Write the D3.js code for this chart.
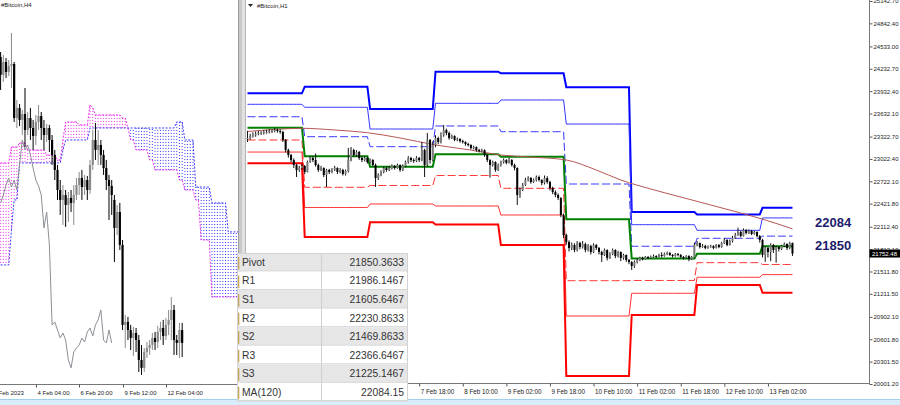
<!DOCTYPE html>
<html>
<head>
<meta charset="utf-8">
<script src="https://cdn.jsdelivr.net/npm/d3@7"></script>
<style>
html, body { margin: 0; padding: 0; background: #fff; overflow: hidden; }
svg { display: block; }
text { font-family: "Liberation Sans", Arial, sans-serif; }
</style>
</head>
<body>
<div id="chart"></div>
<script>
// ---------- left panel: #Bitcoin,H4, one bar every 4 hours from 2 Feb 2023 00:00 ----------
const h4Open = [24048,23897,24006,23922,23972,23989,23534,23619,23518,23568,
  23433,23534,23450,23383,23501,23551,23450,23391,23450,23349,
  23223,23097,22928,22844,22886,22802,22861,22819,22886,22970,
  23029,22953,23012,22928,23139,23349,23265,23307,23223,23113,
  23012,22962,22844,22608,22743,22465,21792,21817,21749,21682,
  21724,21665,21497,21430,21564,21598,21623,21682,21648,21733,
  21766,21699,21792,21834,21918,21665,21640,21749];
const h4High = [24090,24065,24040,24023,24250,24006,23686,23652,23602,23787,
  23585,23619,23518,23560,23644,23585,23518,23484,23476,23391,
  23265,23139,23012,22970,22928,22911,22928,22970,23029,23080,
  23097,23055,23046,23181,23433,23492,23433,23349,23265,23181,
  23055,23012,22886,22802,22819,22507,21876,21859,21792,21775,
  21766,21707,21623,21598,21648,21665,21724,21733,21783,21817,
  21834,21850,21918,22027,21960,21707,21808,21808];
const h4Low = [23770,23838,23871,23888,23787,23501,23450,23467,23391,23290,
  23391,23349,23265,23307,23433,23349,23265,23332,23248,23139,
  23012,22844,22718,22634,22617,22659,22743,22634,22844,22886,
  22844,22886,22844,22895,23097,23181,23139,23139,23055,22928,
  22676,22718,22322,22549,22423,21749,21598,21665,21581,21530,
  21564,21396,21371,21396,21514,21539,21581,21581,21598,21665,
  21623,21665,21707,21665,21539,21539,21514,21522];
const h4Close = [23897,24006,23922,23972,23989,23534,23619,23518,23568,23433,
  23534,23450,23383,23501,23551,23450,23391,23450,23349,23223,
  23097,22928,22844,22886,22802,22861,22819,22886,22970,23029,
  22953,23012,22928,23139,23349,23265,23307,23223,23113,23012,
  22962,22886,22608,22743,22465,21792,21817,21749,21682,21724,
  21665,21497,21430,21564,21598,21623,21682,21648,21733,21766,
  21699,21792,21834,21918,21665,21640,21749,21640];

// Ichimoku cloud spans per H4 bar (already shifted forward)
const spanA = [23156,23156,23156,23156,23290,23290,23290,23324,23324,23324,
  23265,23265,23265,23265,23265,23265,23265,23223,23223,23223,
  23223,23181,23181,23349,23501,23501,23501,23501,23501,23476,
  23476,23476,23476,23644,23619,23560,23560,23560,23560,23560,
  23560,23560,23560,23560,23560,23534,23534,23450,23349,23349,
  23265,23265,23265,23265,23265,23181,23181,23097,23097,23097,
  23097,23097,23097,23097,23097,23097,23012,23012,22928,22928,
  22928,22928,22844,22844,22507,22507,22507,22507,22027,22027,
  22027,22027,22027,22027,22027,22027,22027,22027,22027];
const spanB = [22297,22297,22297,22297,22591,22844,22844,23156,23156,23156,
  23156,23156,23156,23156,23156,23156,23156,23156,23156,23156,
  23156,23156,23156,23265,23349,23349,23349,23349,23349,23349,
  23349,23349,23349,23450,23450,23450,23450,23450,23450,23450,
  23450,23450,23450,23450,23450,23450,23450,23450,23450,23450,
  23450,23450,23450,23450,23450,23450,23450,23450,23450,23450,
  23450,23450,23450,23450,23450,23501,23501,23501,23349,23349,
  23349,23349,22953,22953,22953,22953,22953,22953,22819,22819,
  22819,22819,22819,22819,22575,22575,22575,22575,22575];
const leftTicks = ['2023-02-01 12:00', '2023-02-04 04:00', '2023-02-06 20:00', '2023-02-09 12:00', '2023-02-12 04:00'];
const leftTickLabels = ['1 Feb 2023', '4 Feb 04:00', '6 Feb 20:00', '9 Feb 12:00', '12 Feb 04:00'];

// ---------- right panel: #Bitcoin,H1, one bar per hour from 5 Feb 2023 03:00 ----------
const h1Open = [23290,
  23303,23330,23344,23357,23371,23371,23384,23384,23397,23397,23411,23397,23384,
  23277,23142,23075,23008,22941,22874,22901,22928,22847,22981,23035,23008,
  22941,22874,22901,22807,22874,22847,22874,22901,22847,22874,22820,22860,
  23008,23142,23075,23116,23035,23008,23035,22981,23008,22941,
  22766,22807,22847,22901,22874,22901,22928,22901,22941,22874,22928,
  22981,23035,23008,22995,23035,23008,23142,22941,23277,23008,
  23209,23303,23250,23344,23411,
  23371,23303,23330,23277,23290,23263,23250,23223,23209,23169,23183,23142,23129,23142,
  23075,23008,22941,22981,22874,22941,22981,23008,22968,23008,22941,22901,
  22538,22605,22673,22740,22766,22713,22740,22780,22740,
  22699,22766,22713,22632,22579,22538,22498,22270,22001,21907,
  21827,21867,21800,21894,21840,21880,21800,21854,21773,21867,21827,
  21773,21733,21800,21693,21746,21800,21719,21773,21693,21733,21666,21639,
  21585,21639,21666,21693,21679,21706,21693,21706,21719,21706,
  21733,21719,21746,21760,21733,21719,21746,21733,21706,21693,21719,21679,21706,
  21867,21894,21840,21854,21827,21840,21854,21827,21867,21840,
  21894,21934,21867,21921,21961,22001,22042,21988,
  22068,22028,22055,22015,22042,21988,21934,21733,
  21827,21773,21867,21800,21840,21813,21854,21880,21827,21894];
const h1High = [23400,23360,23380,23390,23400,23395,23410,
  23415,23425,23420,23440,23430,23420,23400,23290,23160,23090,23030,
  22960,22930,22960,22940,23000,23060,23060,
  23095,22960,22930,22910,22890,22890,22900,22930,22910,22900,22890,22880,
  23169,23183,23160,23140,23130,23060,23060,23050,23030,23020,
  22960,22830,22870,22920,22920,22930,22950,22940,22960,22950,22950,
  23000,23060,23050,23030,23060,23050,23250,23160,23371,23290,
  23260,23340,23320,23380,23478,
  23430,23390,23350,23340,23310,23300,23280,23260,23240,23220,23200,23190,23160,23160,
  23150,23090,23020,23000,22990,22960,23000,23030,23020,23040,23020,22960,
  22910,22640,22700,22770,22790,22780,22760,22800,22800,
  22750,22800,22790,22730,22650,22600,22560,22510,22290,22020,
  21930,21900,21890,21920,21910,21920,21900,21880,21870,21890,21880,
  21840,21790,21820,21810,21770,21820,21810,21790,21780,21750,21740,21680,
  21650,21660,21690,21710,21710,21720,21720,21725,21740,21730,
  21750,21770,21765,21780,21775,21745,21760,21760,21745,21720,21730,21730,21720,
  21900,21920,21900,21880,21870,21860,21870,21865,21880,21880,
  21910,21960,21945,21940,21990,22030,22100,22060,
  22090,22080,22075,22070,22060,22050,22000,21950,
  21850,21840,21890,21880,21860,21850,21870,21900,21890,21910,21900];
const h1Low = [23250,23280,23310,23320,23340,23345,23350,
  23360,23365,23370,23380,23375,23360,23250,23110,23040,22980,22900,
  22780,22850,22880,22820,22840,22970,22980,
  22920,22850,22860,22780,22646,22820,22830,22860,22820,22830,22800,22800,
  22840,22990,23050,23050,23010,22980,22990,22960,22960,22920,
  22646,22740,22790,22830,22850,22860,22880,22880,22890,22850,22860,
  22910,22960,22980,22970,22980,22980,22990,22780,22920,22960,
  22990,23180,23220,23230,23320,
  23340,23280,23290,23260,23260,23240,23230,23200,23190,23150,23150,23120,23110,23110,
  23050,22980,22770,22920,22850,22860,22920,22960,22950,22960,22920,22870,
  22404,22500,22590,22660,22720,22690,22700,22720,22720,
  22670,22680,22690,22600,22550,22510,22470,22240,21960,21870,
  21780,21800,21770,21780,21810,21820,21770,21780,21740,21760,21800,
  21740,21640,21720,21660,21680,21730,21690,21700,21650,21670,21640,21610,
  21532,21560,21620,21650,21660,21670,21680,21680,21695,21690,
  21700,21700,21710,21730,21720,21700,21710,21715,21690,21670,21680,21650,21665,
  21700,21850,21820,21830,21810,21815,21830,21810,21820,21825,
  21830,21880,21850,21860,21900,21950,21990,21970,
  21980,22010,22015,22000,22005,21970,21900,21700,
  21640,21700,21650,21760,21630,21780,21800,21840,21800,21810,21720];
const h1Close = [23303,23330,23344,23357,23371,23371,23384,
  23384,23397,23397,23411,23397,23384,23277,23142,23075,23008,22941,
  22874,22901,22928,22847,22981,23035,23008,
  22941,22874,22901,22807,22874,22847,22874,22901,22847,22874,22820,22860,
  23008,23142,23075,23116,23035,23008,23035,22981,23008,22941,
  22766,22807,22847,22901,22874,22901,22928,22901,22941,22874,22928,
  22981,23035,23008,22995,23035,23008,23142,22941,23277,23008,
  23209,23303,23250,23344,23411,
  23371,23303,23330,23277,23290,23263,23250,23223,23209,23169,23183,23142,23129,23142,
  23075,23008,22941,22981,22874,22941,22981,23008,22968,23008,22941,22901,
  22538,22605,22673,22740,22766,22713,22740,22780,22740,
  22699,22766,22713,22632,22579,22538,22498,22270,22001,21907,
  21827,21867,21800,21894,21840,21880,21800,21854,21773,21867,21827,
  21773,21733,21800,21693,21746,21800,21719,21773,21693,21733,21666,21639,
  21585,21639,21666,21693,21679,21706,21693,21706,21719,21706,
  21733,21719,21746,21760,21733,21719,21746,21733,21706,21693,21719,21679,21706,
  21867,21894,21840,21854,21827,21840,21854,21827,21867,21840,
  21894,21934,21867,21921,21961,22001,22042,21988,
  22068,22028,22055,22015,22042,21988,21934,21733,
  21827,21773,21867,21800,21840,21813,21854,21880,21827,21894,21752.48];

// daily pivot levels, 5 Feb .. 13 Feb
const pivotR3 = [23903, 23992, 23693, 24194, 24172, 23984, 22310, 22277, 22366.6467];
const pivotR2 = [23756, 23716, 23424, 23769, 23814, 23491, 22140, 22064, 22230.8633];
const pivotR1 = [23589, 23321, 23187, 23465, 23388, 22686, 21850, 21957, 21986.1467];
const pivotP  = [23442, 23059, 22918, 23085, 23053, 22213, 21685, 21750, 21850.3633];
const pivotS1 = [23277, 22642, 22666, 22800, 22628, 21388, 21391, 21630, 21605.6467];
const pivotS2 = [23115, 22371, 22418, 22391, 22270, 20914, 21219, 21434, 21469.8633];
const pivotS3 = [22964, 21975, 22172, 22142, 21867, 20109, 20928, 21330, 21225.1467];

// MA(120): hours after 5 Feb 00:00 and value
const maHours  = [3, 13, 23, 35, 47, 59, 72, 85, 96, 107, 120, 131, 140, 151, 162, 173, 184, 193, 203];
const maValues = [23391, 23418, 23434, 23411, 23375, 23304, 23210, 23142, 23075, 23048, 23008, 22874, 22740, 22619, 22511, 22404, 22297, 22203, 22084];

const yTicks = [25142.70, 24842.40, 24533.00, 24232.70, 23932.40, 23632.10, 23322.70, 23022.40, 22722.10,
  22421.80, 22112.40, 21812.10, 21511.80, 21211.50, 20902.10, 20601.80, 20301.50, 20001.20];
const rightTicks = ['2023-02-07 18:00', '2023-02-08 10:00', '2023-02-09 02:00', '2023-02-09 18:00', '2023-02-10 10:00',
  '2023-02-11 02:00', '2023-02-11 18:00', '2023-02-12 10:00', '2023-02-13 02:00'];

const tableNames  = ['Pivot', 'R1', 'S1', 'R2', 'S2', 'R3', 'S3', 'MA(120)'];
const tableValues = ['21850.3633', '21986.1467', '21605.6467', '22230.8633', '21469.8633', '22366.6467', '21225.1467', '22084.15'];
const lastPrice = 21752.48;

// ---------------------------------------------------------------------------
const W = 900, H = 405;
const parseT = d3.utcParse('%Y-%m-%d %H:%M');
const HOUR = 3600e3;
const h4Time = i => new Date(Date.UTC(2023, 1, 2, 0) + i * 4 * HOUR);
const h1Time = i => new Date(Date.UTC(2023, 1, 5, 3) + i * HOUR);
const fromDay = h => new Date(Date.UTC(2023, 1, 5, 0) + h * HOUR);

const xL = d3.scaleUtc().domain([new Date(Date.UTC(2023, 1, 2, 0)), new Date(Date.UTC(2023, 1, 12, 4))]).range([0.6, 165.9]);
const yL = d3.scaleLinear().domain([21200, 24500]).range([395.2, 3.3]);
const xR = d3.scaleUtc().domain([new Date(Date.UTC(2023, 1, 5, 0)), new Date(Date.UTC(2023, 1, 13, 0))]).range([239.3, 762.5]);
const yR = d3.scaleLinear().domain([20001.2, 25142.7]).range([384, 1]);

const svg = d3.select('#chart').append('svg').attr('width', W).attr('height', H);
svg.append('rect').attr('width', W).attr('height', H).attr('fill', '#fff');

const defs = svg.append('defs');
defs.append('clipPath').attr('id', 'clipL').append('rect').attr('x', 0).attr('y', 0).attr('width', 238).attr('height', 384);
defs.append('clipPath').attr('id', 'clipR').append('rect').attr('x', 246).attr('y', 0).attr('width', 623).attr('height', 383);

// ---- left panel ----
const left = svg.append('g').attr('clip-path', 'url(#clipL)');

const kumo = spanA.map((a, i) => ({ i, a, b: spanB[i] }));
left.append('g').selectAll('line').data(kumo).join('line')
    .attr('x1', d => xL(h4Time(d.i))).attr('x2', d => xL(h4Time(d.i)))
    .attr('y1', d => yL(d.a)).attr('y2', d => yL(d.b))
    .attr('stroke', d => (d.a >= d.b ? '#ee33ee' : '#3a3aff'))
    .attr('stroke-width', 1)
    .attr('stroke-dasharray', '1,2');

const spanLine = d3.line().x((d, i) => xL(h4Time(i))).y(d => yL(d));
left.append('path').attr('d', spanLine(spanA)).attr('fill', 'none')
    .attr('stroke', '#ee33ee').attr('stroke-width', 1).attr('stroke-dasharray', '2,1.5');
left.append('path').attr('d', spanLine(spanB)).attr('fill', 'none')
    .attr('stroke', '#3a3aff').attr('stroke-width', 1).attr('stroke-dasharray', '2,1.5');

// chikou span: closes drawn 26 bars back
const chikou = h4Close.map((c, i) => ({ i: i - 26, c })).filter(d => d.i >= 0);
left.append('path')
    .attr('d', d3.line().x(d => xL(h4Time(d.i))).y(d => yL(d.c))(chikou))
    .attr('fill', 'none').attr('stroke', '#8c9096').attr('stroke-width', 1);

const h4 = h4Close.map((c, i) => ({ t: h4Time(i), o: h4Open[i], h: h4High[i], l: h4Low[i], c }));
const h4g = left.append('g').selectAll('g').data(h4).join('g');
h4g.append('line')
    .attr('x1', d => xL(d.t)).attr('x2', d => xL(d.t))
    .attr('y1', d => yL(d.h)).attr('y2', d => yL(d.l))
    .attr('stroke', d => (d.c >= d.o ? '#8a8a8a' : '#000')).attr('stroke-width', 1);
h4g.append('rect')
    .attr('x', d => xL(d.t) - 1.1).attr('width', 2.2)
    .attr('y', d => yL(Math.max(d.o, d.c)))
    .attr('height', d => Math.max(1, Math.abs(yL(d.o) - yL(d.c))))
    .attr('fill', d => (d.c >= d.o ? '#8a8a8a' : '#000'));

svg.append('text').attr('x', 1).attr('y', 7).attr('font-size', 6).attr('fill', '#222').text('#Bitcoin,H4');

// left time axis
svg.append('line').attr('x1', 0).attr('x2', 238).attr('y1', 384.5).attr('y2', 384.5).attr('stroke', '#777');
const lt = svg.append('g').selectAll('g').data(leftTicks).join('g')
    .attr('transform', d => `translate(${Math.round(xL(parseT(d))) + 0.5},384.5)`);
lt.append('line').attr('y2', 3).attr('stroke', '#555');
lt.append('text').attr('x', 1).attr('y', 10).attr('font-size', 6).attr('fill', '#222')
    .text((d, i) => leftTickLabels[i]);

// splitter between panels
svg.append('rect').attr('x', 238).attr('y', 0).attr('width', 1).attr('height', 400).attr('fill', '#9c9c9c');
svg.append('rect').attr('x', 239).attr('y', 0).attr('width', 3).attr('height', 400).attr('fill', '#c9c9c9');
svg.append('rect').attr('x', 242).attr('y', 0).attr('width', 3).attr('height', 400).attr('fill', '#e2e2e2');
svg.append('rect').attr('x', 245).attr('y', 0).attr('width', 1).attr('height', 400).attr('fill', '#b4b4b4');

// ---- right panel ----
const right = svg.append('g').attr('clip-path', 'url(#clipR)');

const levels = [
    { vals: pivotR3, color: '#0000ff', w: 2, dash: null },
    { vals: pivotR2, color: '#3535ff', w: 1, dash: null },
    { vals: pivotR1, color: '#3535ff', w: 1, dash: '8,3' },
    { vals: pivotS1, color: '#ff3030', w: 1, dash: '8,3' },
    { vals: pivotS2, color: '#ff3030', w: 1, dash: null },
    { vals: pivotS3, color: '#ff0000', w: 2, dash: null },
    { vals: pivotP, color: '#008000', w: 2, dash: null }
];
const barIdx = d3.range(h1Close.length);
levels.forEach(lv => {
    const line = d3.line()
        .x(i => xR(h1Time(i)))
        .y(i => yR(lv.vals[Math.floor((i + 3) / 24)]));
    right.append('path').attr('d', line(barIdx)).attr('fill', 'none')
        .attr('stroke', lv.color).attr('stroke-width', lv.w)
        .attr('stroke-dasharray', lv.dash);
});

right.append('path')
    .attr('d', d3.line().curve(d3.curveMonotoneX).x((h, i) => xR(fromDay(h))).y((h, i) => yR(maValues[i]))(maHours))
    .attr('fill', 'none').attr('stroke', '#b85656').attr('stroke-width', 1);

const h1 = h1Close.map((c, i) => ({ t: h1Time(i), o: h1Open[i], h: h1High[i], l: h1Low[i], c }));
const h1g = right.append('g').selectAll('g').data(h1).join('g');
h1g.append('line')
    .attr('x1', d => xR(d.t)).attr('x2', d => xR(d.t))
    .attr('y1', d => yR(d.h)).attr('y2', d => yR(d.l))
    .attr('stroke', '#111').attr('stroke-width', 1);
h1g.append('rect')
    .attr('x', d => xR(d.t) - 1).attr('width', 2)
    .attr('y', d => yR(Math.max(d.o, d.c)))
    .attr('height', d => Math.max(1, Math.abs(yR(d.o) - yR(d.c))))
    .attr('fill', d => (d.c >= d.o ? '#7d7d7d' : '#000'));

// title
svg.append('path').attr('d', 'M248,4 L253,4 L250.5,7 Z').attr('fill', '#222');
svg.append('text').attr('x', 257).attr('y', 7.5).attr('font-size', 6).attr('fill', '#222').text('#Bitcoin,H1');

// price axis
const yAxis = svg.append('g').attr('transform', 'translate(869.5,0)')
    .call(d3.axisRight(yR).tickValues(yTicks).tickSize(3).tickPadding(1).tickFormat(d => d.toFixed(2)));
yAxis.select('.domain').remove();
yAxis.selectAll('line').attr('stroke', '#555');
yAxis.selectAll('text').attr('font-size', 6).attr('fill', '#222').attr('font-family', '"Liberation Sans", Arial, sans-serif');
svg.append('line').attr('x1', 869.5).attr('x2', 869.5).attr('y1', 0).attr('y2', 384).attr('stroke', '#777');

// last price marker
svg.append('rect').attr('x', 869.5).attr('y', yR(lastPrice) - 4).attr('width', 31).attr('height', 8).attr('fill', '#000');
svg.append('text').attr('x', 872).attr('y', yR(lastPrice) + 2.2).attr('font-size', 6).attr('fill', '#fff')
    .text(lastPrice.toFixed(2));

// time axis
svg.append('line').attr('x1', 245).attr('x2', 869.5).attr('y1', 383.5).attr('y2', 383.5).attr('stroke', '#777');
const xAxis = svg.append('g').attr('transform', 'translate(0,383.5)')
    .call(d3.axisBottom(xR).tickValues(rightTicks.map(parseT)).tickSize(3).tickFormat(d3.utcFormat('%-d %b %H:%M')));
xAxis.select('.domain').remove();
xAxis.selectAll('line').attr('stroke', '#555');
xAxis.selectAll('text').attr('font-size', 6.3).attr('fill', '#222').attr('text-anchor', 'start')
    .attr('x', 1).attr('y', 6).attr('dy', '0.71em')
    .attr('font-family', '"Liberation Sans", Arial, sans-serif');

// annotations
svg.append('text').attr('x', 815).attr('y', 227).attr('font-family', '"Liberation Serif", serif')
    .attr('font-weight', 'bold').attr('font-size', 13).attr('fill', '#1c1c6c').text(Math.round(maValues[maValues.length - 1]));
svg.append('text').attr('x', 815).attr('y', 250).attr('font-family', '"Liberation Serif", serif')
    .attr('font-weight', 'bold').attr('font-size', 13).attr('fill', '#1c1c6c').text(Math.round(pivotP[pivotP.length - 1]));

// bottom status strip
svg.append('rect').attr('x', 0).attr('y', 399.5).attr('width', W).attr('height', 6).attr('fill', '#d8ecf9');
svg.append('line').attr('x1', 0).attr('x2', W).attr('y1', 399.5).attr('y2', 399.5).attr('stroke', '#9fd0ee');

// ---- values table ----
const tx0 = 237, tx1 = 408, tColX = 321, tY0 = 253, rowH = 18.55;
const table = svg.append('g');
const rows = table.selectAll('g').data(tableNames).join('g')
    .attr('transform', (d, i) => `translate(0,${tY0 + i * rowH})`);
rows.append('rect').attr('x', tx0).attr('width', tx1 - tx0).attr('height', rowH)
    .attr('fill', (d, i) => (i % 2 === 0 ? '#e6e6e6' : '#ffffff'));
rows.append('line').attr('x1', tx0).attr('x2', tx1).attr('y1', rowH - 0.5).attr('y2', rowH - 0.5).attr('stroke', '#d6d6d6');
rows.append('rect').attr('x', tx0 + 0.5).attr('y', 4).attr('width', 1.8).attr('height', rowH - 6).attr('fill', '#c8a457');
rows.append('text').attr('x', 242).attr('y', rowH / 2 + 3.6)
    .attr('font-family', '"Open Sans", sans-serif').attr('font-size', 10.3).attr('fill', '#333').text(d => d);
rows.append('text').attr('x', 404).attr('y', rowH / 2 + 3.6).attr('text-anchor', 'end')
    .attr('font-family', '"Open Sans", sans-serif').attr('font-size', 10.3).attr('fill', '#333')
    .text((d, i) => tableValues[i]);
table.append('line').attr('x1', tColX + 0.5).attr('x2', tColX + 0.5).attr('y1', tY0).attr('y2', tY0 + rowH * tableNames.length)
    .attr('stroke', '#d0d0d0');
table.append('rect').attr('x', tx0 + 0.5).attr('y', tY0 + 0.5).attr('width', tx1 - tx0 - 1).attr('height', rowH * tableNames.length - 1)
    .attr('fill', 'none').attr('stroke', '#d3d3d3');
</script>
</body>
</html>
